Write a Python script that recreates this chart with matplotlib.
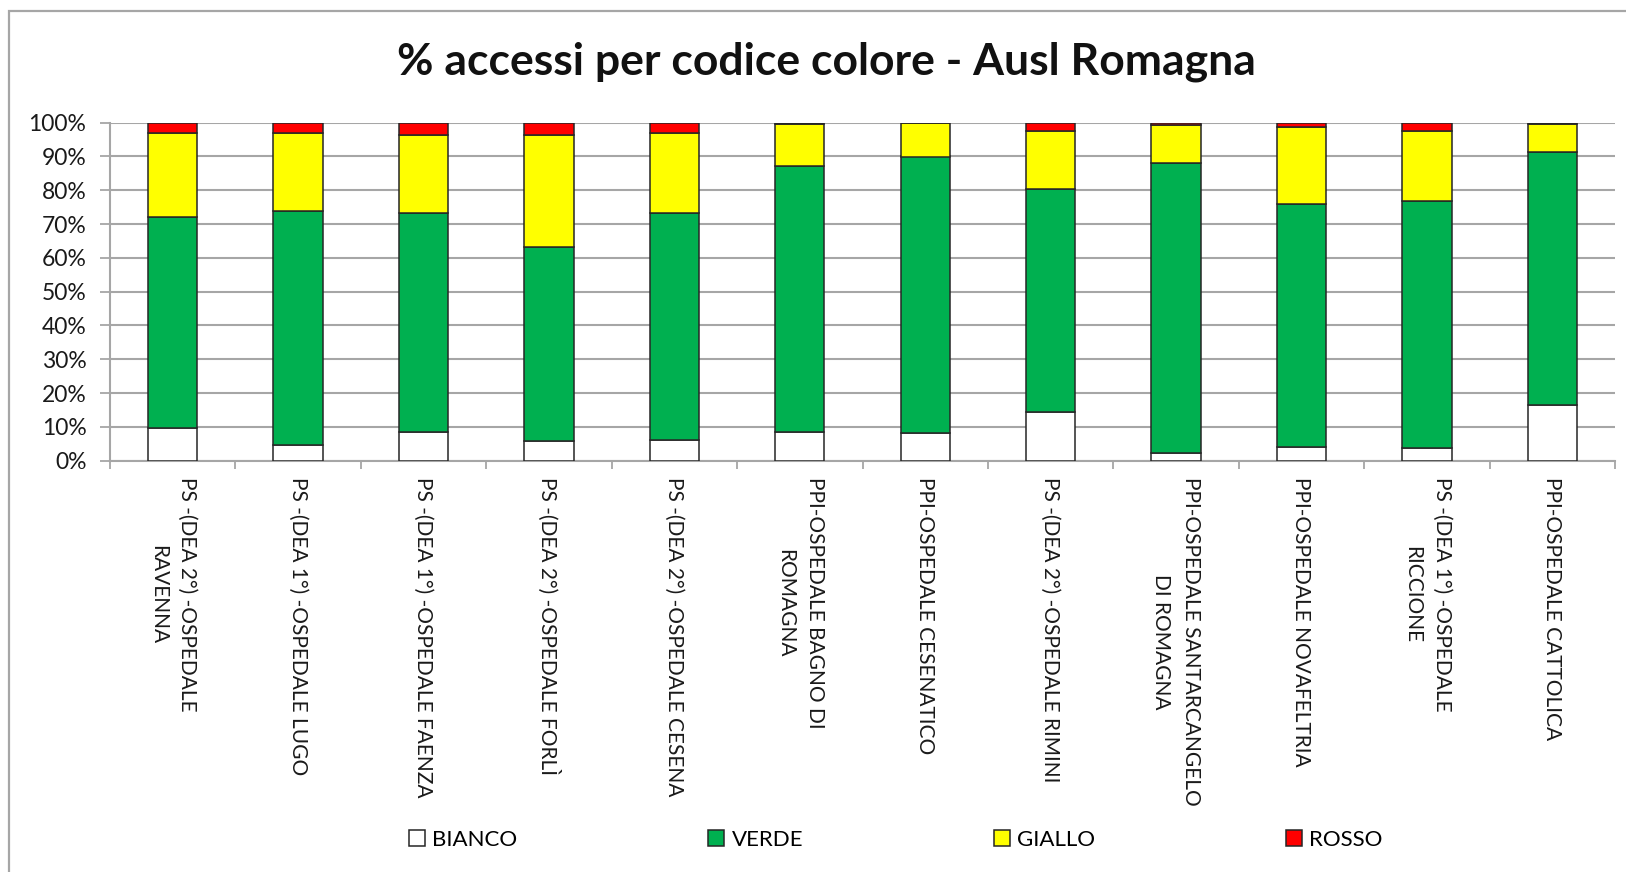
import matplotlib
matplotlib.use("Agg")
import matplotlib.pyplot as plt
import matplotlib.patches as mpatches
from matplotlib.ticker import PercentFormatter, FixedLocator
import numpy as np

plt.rcParams['font.family'] = ['Lato', 'DejaVu Sans']

categories = [
    "PS -(DEA 2°) -OSPEDALE\nRAVENNA",
    "PS -(DEA 1°) -OSPEDALE LUGO",
    "PS -(DEA 1°) -OSPEDALE FAENZA",
    "PS -(DEA 2°) -OSPEDALE FORLÌ",
    "PS -(DEA 2°) -OSPEDALE CESENA",
    "PPI-OSPEDALE BAGNO DI\nROMAGNA",
    "PPI-OSPEDALE CESENATICO",
    "PS -(DEA 2°) -OSPEDALE RIMINI",
    "PPI-OSPEDALE SANTARCANGELO\nDI ROMAGNA",
    "PPI-OSPEDALE NOVAFELTRIA",
    "PS -(DEA 1°) -OSPEDALE\nRICCIONE",
    "PPI-OSPEDALE CATTOLICA",
]
series_names = ["BIANCO", "VERDE", "GIALLO", "ROSSO"]
bianco = [9.6, 4.6, 8.5, 5.8, 6.1, 8.5, 8.1, 14.5, 2.4, 4.1, 3.8, 16.5]
verde = [62.4, 69.2, 64.9, 57.4, 67.3, 78.6, 81.9, 65.8, 85.6, 71.9, 73.1, 74.8]
giallo = [24.9, 23.2, 23.1, 33.3, 23.5, 12.4, 9.9, 17.3, 11.2, 22.8, 20.7, 8.2]
rosso = [3.1, 3.0, 3.5, 3.5, 3.1, 0.5, 0.1, 2.4, 0.8, 1.2, 2.4, 0.5]
colors = ["#FFFFFF", "#00B050", "#FFFF00", "#FF0000"]

W, H = 1626, 872
fig = plt.figure(figsize=(W / 100, H / 100), dpi=100)
fig.patch.set_facecolor("white")

# outer chart border (left/top visible)
fig.patches.append(mpatches.Rectangle((8.5 / W, -0.2), 1.5, 1.2 - 10.5 / H,
                                      transform=fig.transFigure, fill=False,
                                      edgecolor="#a6a6a6", linewidth=1.6))

ax = fig.add_axes([110 / W, 1 - 460.7 / H, (1615 - 110) / W, (460.7 - 122.7) / H])
x = np.arange(len(categories))
bottom = np.zeros(len(categories))
handles = []
for name, vals, c in zip(series_names, [bianco, verde, giallo, rosso], colors):
    b = ax.bar(x, vals, width=0.394, bottom=bottom, color=c, edgecolor="#262626",
               linewidth=1.1, label=name, zorder=3)
    handles.append(b)
    bottom += np.array(vals)

ax.set_xlim(-0.5, len(categories) - 0.5)
ax.set_ylim(0, 100)
ax.yaxis.set_major_locator(FixedLocator(np.arange(0, 101, 10)))
ax.yaxis.set_major_formatter(PercentFormatter(100, decimals=0))
ax.grid(axis="y", color="#a6a6a6", linewidth=1.5, zorder=0)
ax.set_axisbelow(True)
for s in ["top", "right"]:
    ax.spines[s].set_visible(False)
for s in ["left", "bottom"]:
    ax.spines[s].set_color("#a6a6a6")
    ax.spines[s].set_linewidth(1.5)

ax.tick_params(axis="y", length=7, width=1.3, color="#a6a6a6", pad=10,
               labelsize=16.5, labelcolor="#1a1a1a")
ax.set_xticks(x)
ax.set_xticklabels(categories, rotation=270, ha="center", va="top",
                   multialignment="center", fontsize=15, linespacing=1.6,
                   color="#1a1a1a")
ax.tick_params(axis="x", which="major", length=0, pad=12)
ax.set_xticks(np.arange(-0.5, len(categories)), minor=True)
ax.tick_params(axis="x", which="minor", length=6, width=1.3, color="#a6a6a6")

fig.text(826 / W, 1 - 75 / H, "% accessi per codice colore - Ausl Romagna",
         ha="center", va="baseline", fontsize=32, fontweight="bold", color="#111111")

fig.legend(handles=handles, labels=series_names, loc="center left",
           bbox_to_anchor=(409 / W, 1 - 840 / H), ncol=4, frameon=False,
           fontsize=16, handlelength=0.72, handleheight=0.7, handletextpad=0.33,
           columnspacing=8.58, borderpad=0, borderaxespad=0)

fig.savefig("out.png", dpi=100)
